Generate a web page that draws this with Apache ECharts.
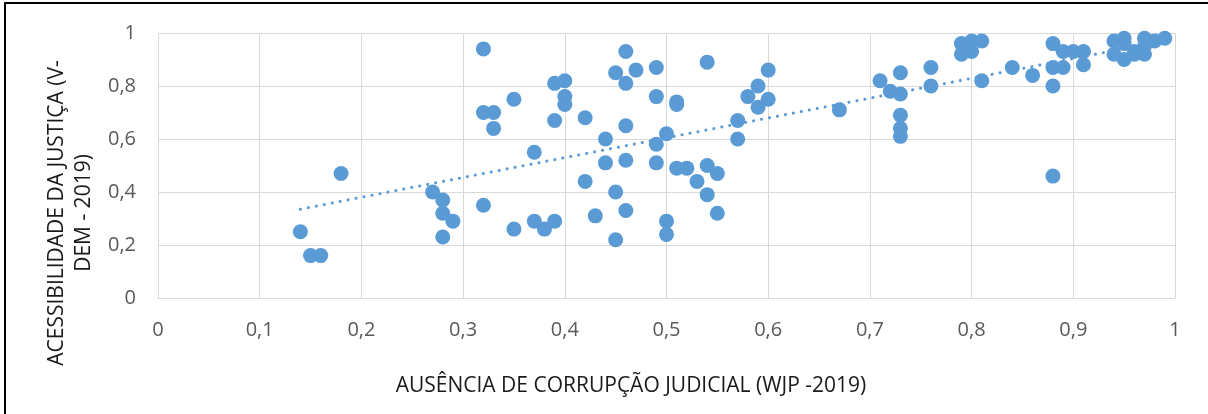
<!DOCTYPE html>
<html>
<head>
<meta charset="utf-8">
<script src="https://cdn.jsdelivr.net/npm/echarts@6/dist/echarts.min.js"></script>
<style>
  html, body { margin: 0; padding: 0; background: #fff; }
  #chart { width: 1208px; height: 414px; }
</style>
</head>
<body>
<div id="chart"></div>
<script>
// ausência de corrupção judicial (WJP 2019) x acessibilidade da justiça (V-DEM 2019)
var wjp = [
  0.14, 0.15, 0.16, 0.18, 0.27, 0.28, 0.28, 0.28, 0.29, 0.32,
  0.32, 0.32, 0.33, 0.33, 0.35, 0.35, 0.37, 0.37, 0.38, 0.39,
  0.39, 0.39, 0.40, 0.40, 0.40, 0.42, 0.42, 0.43, 0.44, 0.44,
  0.45, 0.45, 0.45, 0.46, 0.46, 0.46, 0.46, 0.46, 0.47, 0.49,
  0.49, 0.49, 0.49, 0.50, 0.50, 0.50, 0.51, 0.51, 0.51, 0.52,
  0.53, 0.54, 0.54, 0.54, 0.55, 0.55, 0.57, 0.57, 0.58, 0.59,
  0.59, 0.60, 0.60, 0.67, 0.71, 0.72, 0.73, 0.73, 0.73, 0.73,
  0.73, 0.76, 0.76, 0.79, 0.79, 0.80, 0.80, 0.81, 0.81, 0.84,
  0.86, 0.88, 0.88, 0.88, 0.88, 0.89, 0.89, 0.90, 0.91, 0.91,
  0.94, 0.94, 0.95, 0.95, 0.95, 0.96, 0.96, 0.97, 0.97, 0.97,
  0.98, 0.99
];
var vdem = [
  0.25, 0.16, 0.16, 0.47, 0.40, 0.37, 0.32, 0.23, 0.29, 0.94,
  0.70, 0.35, 0.70, 0.64, 0.75, 0.26, 0.55, 0.29, 0.26, 0.29,
  0.81, 0.67, 0.82, 0.76, 0.73, 0.68, 0.44, 0.31, 0.60, 0.51,
  0.85, 0.40, 0.22, 0.93, 0.81, 0.65, 0.52, 0.33, 0.86, 0.87,
  0.76, 0.58, 0.51, 0.62, 0.29, 0.24, 0.74, 0.73, 0.49, 0.49,
  0.44, 0.89, 0.50, 0.39, 0.47, 0.32, 0.67, 0.60, 0.76, 0.80,
  0.72, 0.86, 0.75, 0.71, 0.82, 0.78, 0.85, 0.77, 0.69, 0.64,
  0.61, 0.87, 0.80, 0.96, 0.92, 0.97, 0.93, 0.97, 0.82, 0.87,
  0.84, 0.96, 0.87, 0.80, 0.46, 0.87, 0.93, 0.93, 0.93, 0.88,
  0.97, 0.92, 0.98, 0.96, 0.90, 0.92, 0.93, 0.98, 0.95, 0.92,
  0.97, 0.98
];
var xTitle = 'AUSÊNCIA DE CORRUPÇÃO JUDICIAL (WJP -2019)';
var yTitle = 'ACESSIBILIDADE DA JUSTIÇA (V-\nDEM - 2019)';

var points = wjp.map(function (x, i) { return [x, vdem[i]]; });

// linear trend (least squares), like Excel's trendline
function trend(xs, ys) {
  var n = xs.length, sx = 0, sy = 0, sxx = 0, sxy = 0;
  for (var i = 0; i < n; i++) {
    sx += xs[i]; sy += ys[i];
    sxx += xs[i] * xs[i]; sxy += xs[i] * ys[i];
  }
  var b = (n * sxy - sx * sy) / (n * sxx - sx * sx);
  var a = (sy - b * sx) / n;
  var x0 = Math.min.apply(null, xs), x1 = Math.max.apply(null, xs);
  return [[x0, a + b * x0], [x1, a + b * x1]];
}

function comma(v) { return String(+v.toFixed(2)).replace('.', ','); }

var blue = '#5B9BD5';
var font = 'Open Sans';
var myChart = echarts.init(document.getElementById('chart'), null, { renderer: 'canvas' });

var option = {
  animation: false,
  backgroundColor: '#fff',
  grid: { left: 158, right: 33, top: 33, bottom: 116, containLabel: false, outerBoundsMode: 'none' },
  xAxis: {
    type: 'value',
    min: 0, max: 1, interval: 0.1,
    axisLine: { show: true, lineStyle: { color: '#D9D9D9', width: 1 } },
    axisTick: { show: false },
    splitLine: { show: true, lineStyle: { color: '#D9D9D9', width: 1 } },
    axisLabel: { formatter: comma, color: '#595959', fontFamily: font, fontSize: 20, margin: 22 },
    name: xTitle,
    nameLocation: 'middle',
    nameGap: 78,
    nameTextStyle: { color: '#1a1a1a', fontFamily: font, fontSize: 21, padding: [0, 71, 0, 0] }
  },
  yAxis: {
    type: 'value',
    min: 0, max: 1, interval: 0.2,
    axisLine: { show: true, lineStyle: { color: '#D9D9D9', width: 1 } },
    axisTick: { show: false },
    splitLine: { show: true, lineStyle: { color: '#D9D9D9', width: 1 } },
    axisLabel: { formatter: comma, color: '#595959', fontFamily: font, fontSize: 20, margin: 22 },
    name: yTitle,
    nameLocation: 'middle',
    nameGap: 60,
    nameTextStyle: { color: '#1a1a1a', fontFamily: font, fontSize: 21, lineHeight: 27, padding: [0, 95, 0, 0] }
  },
  graphic: [{
    type: 'rect',
    shape: { x: 5, y: 3, width: 1220, height: 430 },
    style: { fill: 'none', stroke: '#000', lineWidth: 2 },
    silent: true
  }],
  series: [
    {
      type: 'scatter',
      data: points,
      symbol: 'circle',
      symbolSize: 15,
      itemStyle: { color: blue, opacity: 1 },
      z: 3
    },
    {
      type: 'line',
      data: trend(wjp, vdem),
      showSymbol: false,
      symbol: 'none',
      lineStyle: { color: blue, width: 3, type: [0.1, 8], cap: 'round' },
      z: 4
    }
  ]
};
myChart.setOption(option);
</script>
</body>
</html>
